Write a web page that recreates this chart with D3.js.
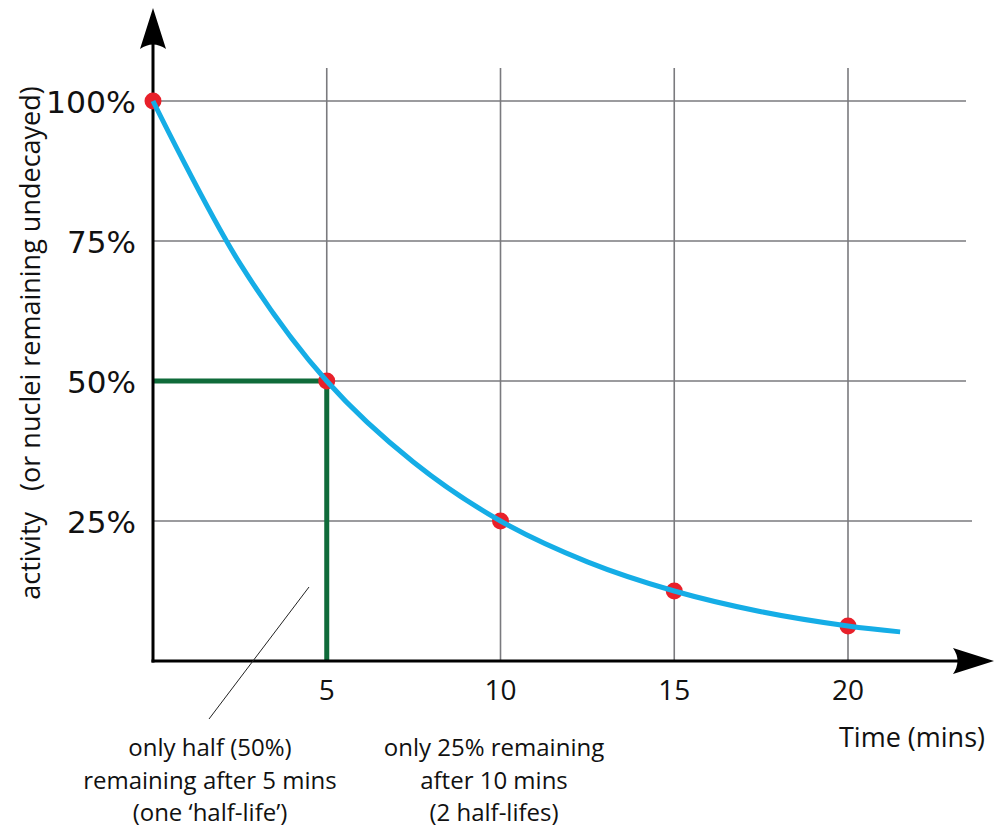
<!DOCTYPE html>
<html><head><meta charset="utf-8">
<script src="https://cdn.jsdelivr.net/npm/d3@7"></script>
<style>body{margin:0;background:#fff}svg{display:block}</style>
</head><body>
<svg id="c" width="1000" height="833"></svg>
<script>
const xTicks = [5, 10, 15, 20];
const xTickLabels = ["5", "10", "15", "20"];
const yTicks = [25, 50, 75, 100];
const yTickLabels = ["25%", "50%", "75%", "100%"];
const pointTimes = [0, 5, 10, 15, 20];
const pointValues = [100, 50, 25, 12.5, 6.25];
const curveTimes = [0, 2.5, 5, 7.5, 10, 12.5, 15, 17.5, 20, 21.5];
const curveValues = [100, 71, 50, 35.5, 25, 17.7, 12.5, 8.8, 6.25, 5.2];
const halfLifeTime = 5, halfLifeValue = 50;
const xTitle = "Time (mins)";
const yTitle = "activity   (or nuclei remaining undecayed)";
const note1 = ["only half (50%)", "remaining after 5 mins", "(one \u2018half-life\u2019)"];
const note2 = ["only 25% remaining", "after 10 mins", "(2 half-lifes)"];

const svg = d3.select("#c");
const x = d3.scaleLinear().domain([0, 20]).range([153, 848]);
const y = d3.scaleLinear().domain([0, 100]).range([661, 101]);
const font = "'Open Sans', 'Noto Sans', sans-serif";

// grid
svg.append("g").selectAll("line").data(xTicks).join("line")
  .attr("x1", d => x(d)).attr("x2", d => x(d)).attr("y1", 68).attr("y2", y(0))
  .attr("stroke", "#7a7a7e").attr("stroke-width", 1.6);
svg.append("g").selectAll("line").data(yTicks).join("line")
  .attr("x1", x(0)).attr("x2", d => d === 25 ? 972 : 966).attr("y1", d => y(d)).attr("y2", d => y(d))
  .attr("stroke", "#7a7a7e").attr("stroke-width", 1.6);

// green half-life lines
svg.append("path")
  .attr("d", `M${x(0)},${y(halfLifeValue)}H${x(halfLifeTime)}V${y(0)}`)
  .attr("fill", "none").attr("stroke", "#0f6b3a").attr("stroke-width", 5);

// axes
svg.append("line").attr("x1", x(0)).attr("x2", x(0)).attr("y1", y(0) + 1.5).attr("y2", 30)
  .attr("stroke", "#000").attr("stroke-width", 3);
svg.append("line").attr("x1", x(0) - 1.5).attr("x2", 975).attr("y1", y(0)).attr("y2", y(0))
  .attr("stroke", "#000").attr("stroke-width", 3);
// arrowheads
const ax = x(0), ay = y(0);
svg.append("path").attr("d", `M${ax},8 L${ax + 13},49 Q${ax},40 ${ax - 13},49 Z`).attr("fill", "#000");
svg.append("path").attr("d", `M994,${ay} L953,${ay - 13} Q962,${ay} 953,${ay + 13} Z`).attr("fill", "#000");

// curve + points
const line = d3.line().x(d => x(d[0])).y(d => y(d[1])).curve(d3.curveCatmullRom);
svg.append("g").selectAll("circle").data(pointTimes.map((t, i) => [t, pointValues[i]])).join("circle")
  .attr("cx", d => x(d[0])).attr("cy", d => y(d[1])).attr("r", 8.5).attr("fill", "#e8202a");
svg.append("path").datum(curveTimes.map((t, i) => [t, curveValues[i]]))
  .attr("d", line).attr("fill", "none").attr("stroke", "#15ade6").attr("stroke-width", 5);

// tick labels
svg.append("g").selectAll("text").data(xTicks).join("text")
  .attr("x", d => x(d)).attr("y", 700).attr("text-anchor", "middle")
  .attr("font-family", font).attr("font-size", 28).attr("fill", "#111")
  .text((d, i) => xTickLabels[i]);
svg.append("g").selectAll("text").data(yTicks).join("text")
  .attr("x", 136).attr("y", d => y(d) + 12).attr("text-anchor", "end")
  .attr("font-family", "'DejaVu Sans', sans-serif").attr("font-weight", 400).attr("font-size", 31)
  .attr("fill", "#111")
  .attr("textLength", (d, i) => yTickLabels[i].length === 4 ? 90 : 69)
  .attr("lengthAdjust", "spacingAndGlyphs")
  .text((d, i) => yTickLabels[i]);

// axis titles
svg.append("text").attr("x", 912).attr("y", 747).attr("text-anchor", "middle")
  .attr("font-family", font).attr("font-size", 27).attr("fill", "#111").text(xTitle);
svg.append("text").attr("transform", "translate(40,343) rotate(-90)").attr("text-anchor", "middle")
  .attr("font-family", font).attr("font-size", 27).attr("fill", "#111")
  .style("white-space", "pre").text(yTitle);

// annotations
svg.append("line").attr("x1", 309).attr("y1", 587).attr("x2", 209).attr("y2", 719)
  .attr("stroke", "#222").attr("stroke-width", 1);
const n1 = svg.append("text").attr("font-family", font).attr("font-size", 24).attr("fill", "#111").attr("text-anchor", "middle");
note1.forEach((s, i) => n1.append("tspan").attr("x", 210).attr("y", 756 + i * 32.5).text(s));
const n2 = svg.append("text").attr("font-family", font).attr("font-size", 24).attr("fill", "#111").attr("text-anchor", "middle");
note2.forEach((s, i) => n2.append("tspan").attr("x", 494).attr("y", 756 + i * 32.5).text(s));
</script>
</body></html>
